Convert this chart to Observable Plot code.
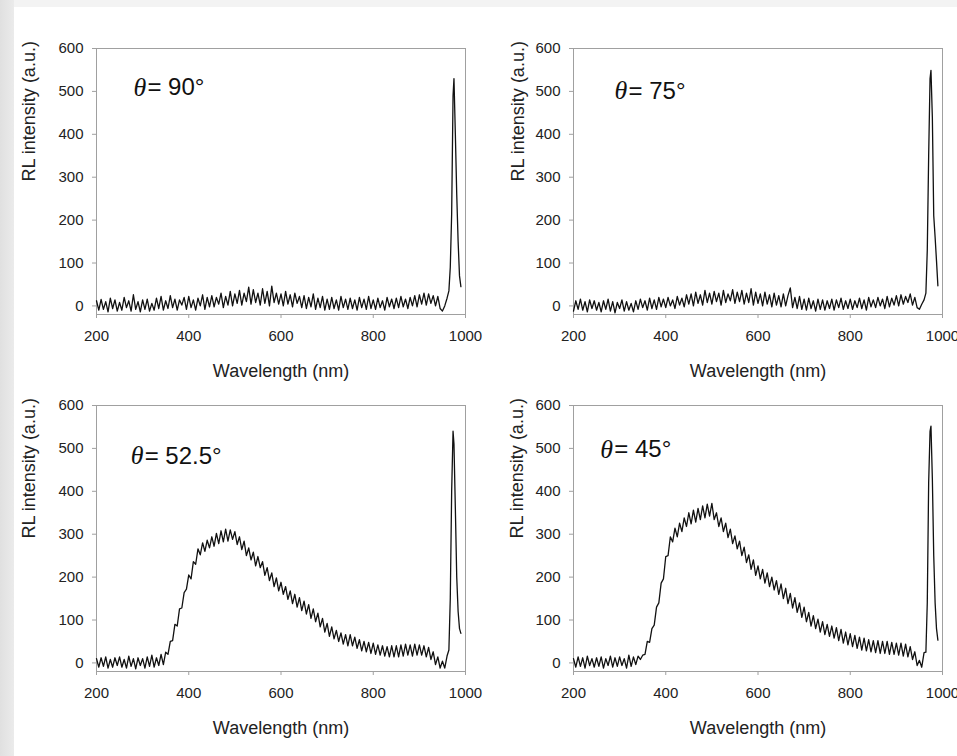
<!DOCTYPE html>
<html><head><meta charset="utf-8">
<script src="https://cdn.jsdelivr.net/npm/d3@7"></script>
<script src="https://cdn.jsdelivr.net/npm/@observablehq/plot@0.6"></script>
<style>
body{margin:0;background:#fff;}
#wrap{position:relative;width:957px;height:756px;overflow:hidden;background:#fff;font-family:"Liberation Sans",Arial,sans-serif;}
#topstrip{position:absolute;left:0;top:0;width:957px;height:7px;background:#f3f3f3;}
#leftstrip{position:absolute;left:0;top:0;width:14px;height:756px;background:linear-gradient(to right,#e0e0e0,#ebebeb);}
.panel{position:absolute;}
.panel svg{overflow:visible;}
</style>
</head><body>
<div id="wrap"><div id="topstrip"></div><div id="leftstrip"></div></div>
<script>
// ---- data ----
const xTicks = [200, 400, 600, 800, 1000];
const yTicks = [0, 100, 200, 300, 400, 500, 600];
const xLabel = "Wavelength (nm)";
const yLabel = "RL intensity (a.u.)";
const angleLabels = ["= 90°", "= 75°", "= 52.5°", "= 45°"];

// spectrum sampled every 5 nm from 200 to 960 nm
const wavelength = d3.range(200, 961, 5);
// sharp laser peak region
const peakWavelength = [964, 967, 970, 973, 975, 978, 981, 984, 987, 990];

const theta90 = [
  12, -10, 15, -8, 10, -14, 18, -6, 14, -12,
  8, -10, 20, -4, 12, -12, 26, -8, 10, -14,
  14, -8, 16, -12, 6, -10, 18, -6, 22, -10,
  12, -6, 24, -4, 16, -10, 14, 2, 20, -8,
  22, -4, 14, -10, 18, 0, 26, -8, 20, -2,
  24, -2, 20, 4, 30, -4, 22, 2, 34, 0,
  28, 6, 36, 2, 30, 10, 44, 4, 38, 8,
  30, 2, 40, 6, 34, 0, 46, 8, 30, 4,
  28, 0, 34, 4, 26, -2, 30, 6, 22, -4,
  24, -6, 20, -2, 28, -8, 18, -4, 22, -10,
  16, -8, 20, -6, 14, -10, 22, -4, 16, -8,
  18, -6, 14, -10, 20, -4, 16, -8, 22, -6,
  14, -8, 18, -4, 12, -10, 20, -2, 16, -6,
  18, -4, 22, -2, 16, -6, 20, 0, 24, -2,
  26, 4, 30, 2, 28, 6, 24, 0, 22, -6,
  -12, 0, 18];
const peak90 = [35, 90, 215, 490, 530, 400, 260, 150, 70, 45];

const theta75 = [
  -12, 12, -8, 16, -10, 10, -14, 14, -6, 12,
  -10, 8, -14, 12, -8, 16, -12, 10, -16, 8,
  -6, 14, -12, 10, -10, 6, -14, 12, -8, 16,
  -4, 12, -10, 18, -6, 14, -8, 20, -2, 16,
  -4, 20, 0, 14, -6, 22, 2, 18, -2, 26,
  4, 28, 0, 32, 6, 26, 2, 36, 8, 30,
  4, 34, 10, 30, 2, 36, 8, 28, 12, 38,
  6, 32, 10, 36, 4, 30, 8, 40, 2, 32,
  6, 28, 0, 32, 4, 26, -2, 30, 2, 24,
  -2, 28, 0, 24, 42, -4, 20, -6, 22, -8,
  16, -10, 18, -6, 12, -12, 16, -8, 14, -10,
  12, -6, 16, -10, 14, -4, 18, -8, 12, -6,
  16, -8, 12, -4, 18, -6, 14, -10, 20, -2,
  14, -4, 20, 0, 16, -6, 22, -2, 18, 2,
  24, 0, 26, 4, 22, 8, 28, 2, 20, -4,
  -8, 4, 14];
const peak75 = [30, 130, 350, 530, 549, 440, 210, 160, 105, 47];

const theta52 = [
  10, -10, 12, -8, 14, -12, 8, -10, 12, -6,
  14, -10, 8, -12, 16, -8, 10, -14, 12, -6,
  10, -12, 14, -8, 18, -10, 12, -6, 20, -4,
  25, 20, 50, 52, 90, 86, 126, 128, 164, 172,
  205, 196, 236, 230, 266, 252, 280, 260, 286, 268,
  294, 272, 302, 278, 308, 282, 312, 284, 310, 288,
  306, 276, 294, 264, 284, 250, 268, 240, 258, 226,
  248, 222, 236, 204, 222, 192, 210, 178, 198, 168,
  188, 160, 178, 148, 168, 138, 160, 130, 152, 122,
  144, 114, 136, 104, 126, 96, 116, 84, 104, 72,
  92, 62, 84, 56, 76, 50, 70, 44, 66, 40,
  66, 40, 60, 34, 54, 28, 50, 26, 48, 22,
  46, 20, 42, 18, 40, 16, 38, 14, 40, 14,
  40, 14, 42, 16, 44, 18, 42, 16, 44, 18,
  42, 18, 40, 14, 36, 8, 26, -4, 14, -12,
  4, -12, 16];
const peak52 = [30, 150, 400, 540, 510, 360, 200, 120, 80, 69];

const theta45 = [
  10, -10, 14, -8, 12, -12, 16, -6, 10, -10,
  12, -8, 14, -12, 10, -6, 16, -10, 12, -8,
  14, -6, 10, -12, 18, -8, 14, -4, 16, 8,
  18, 20, 50, 48, 80, 88, 130, 140, 186, 196,
  248, 250, 294, 282, 314, 294, 326, 306, 338, 318,
  350, 324, 356, 328, 360, 334, 366, 338, 370, 342,
  372, 334, 350, 318, 338, 306, 326, 292, 312, 278,
  296, 266, 284, 250, 270, 234, 252, 218, 240, 204,
  226, 196, 218, 186, 210, 178, 200, 170, 192, 160,
  184, 150, 174, 138, 162, 128, 152, 118, 140, 106,
  130, 96, 118, 86, 110, 80, 102, 72, 96, 66,
  90, 62, 86, 58, 82, 52, 78, 46, 72, 42,
  68, 38, 64, 34, 60, 30, 58, 28, 54, 26,
  52, 24, 52, 22, 50, 22, 50, 20, 48, 20,
  46, 18, 46, 16, 44, 14, 38, 8, 26, -6,
  6, -10, 24];
const peak45 = [25, 140, 420, 540, 552, 430, 250, 140, 80, 53];

// angle-label anchor in data units
const labelWl = [280, 289, 274, 258];
const labelInt = [509, 501, 482, 497];

// ---- layout ----
const panels = [
  {values: theta90, peak: peak90, left: 0, top: 0, mt: 48, yOff: -67},
  {values: theta75, peak: peak75, left: 477, top: 0, mt: 48, yOff: -55},
  {values: theta52, peak: peak52, left: 0, top: 376, mt: 29, yOff: -67},
  {values: theta45, peak: peak45, left: 477, top: 376, mt: 29, yOff: -56}
];

const font = "'Liberation Sans', Arial, sans-serif";
const wrap = document.getElementById("wrap");

panels.forEach((p, k) => {
  const data = wavelength.map((w, i) => ({w, v: p.values[i]}))
    .concat(peakWavelength.map((w, i) => ({w, v: p.peak[i]})));
  const H = 380, W = 480;
  const chart = Plot.plot({
    width: W, height: H,
    marginLeft: 96, marginRight: W - 96 - 369,
    marginTop: p.mt, marginBottom: H - p.mt - 266,
    style: {fontFamily: font, background: "transparent", overflow: "visible", color: "#222"},
    x: {domain: [200, 1000]},
    y: {domain: [-20, 600]},
    marks: [
      Plot.frame({stroke: "#a0a0a0", strokeWidth: 1}),
      Plot.axisX({ticks: xTicks, tickSize: 4, tickPadding: 12, stroke: "#a0a0a0", fill: "#222", fontSize: 15, label: null, tickFormat: d => String(d)}),
      Plot.axisY({ticks: yTicks, tickSize: 4, tickPadding: 9, stroke: "#a0a0a0", fill: "#222", fontSize: 15, label: null, tickFormat: d => String(d)}),
      Plot.line(data, {x: "w", y: "v", stroke: "#111", strokeWidth: 1.3, curve: "linear"}),
      Plot.text([xLabel], {frameAnchor: "bottom", dy: 57, fontSize: 18, fill: "#222", lineAnchor: "middle"}),
      Plot.text([yLabel], {frameAnchor: "left", dx: p.yOff, rotate: -90, fontSize: 18, fill: "#222", lineAnchor: "middle"}),
      Plot.text([0], {x: () => labelWl[k], y: () => labelInt[k], text: () => "θ", fontSize: 26, fontStyle: "italic", fontFamily: "'Liberation Serif', 'DejaVu Serif', serif", textAnchor: "start", lineAnchor: "middle", fill: "#111"}),
      Plot.text([0], {x: () => labelWl[k], y: () => labelInt[k], text: () => angleLabels[k], dx: 14, fontSize: 24, textAnchor: "start", lineAnchor: "middle", fill: "#111"})
    ]
  });
  const div = document.createElement("div");
  div.className = "panel";
  div.style.left = p.left + "px";
  div.style.top = p.top + "px";
  div.appendChild(chart);
  wrap.appendChild(div);
});
</script>
</body></html>
